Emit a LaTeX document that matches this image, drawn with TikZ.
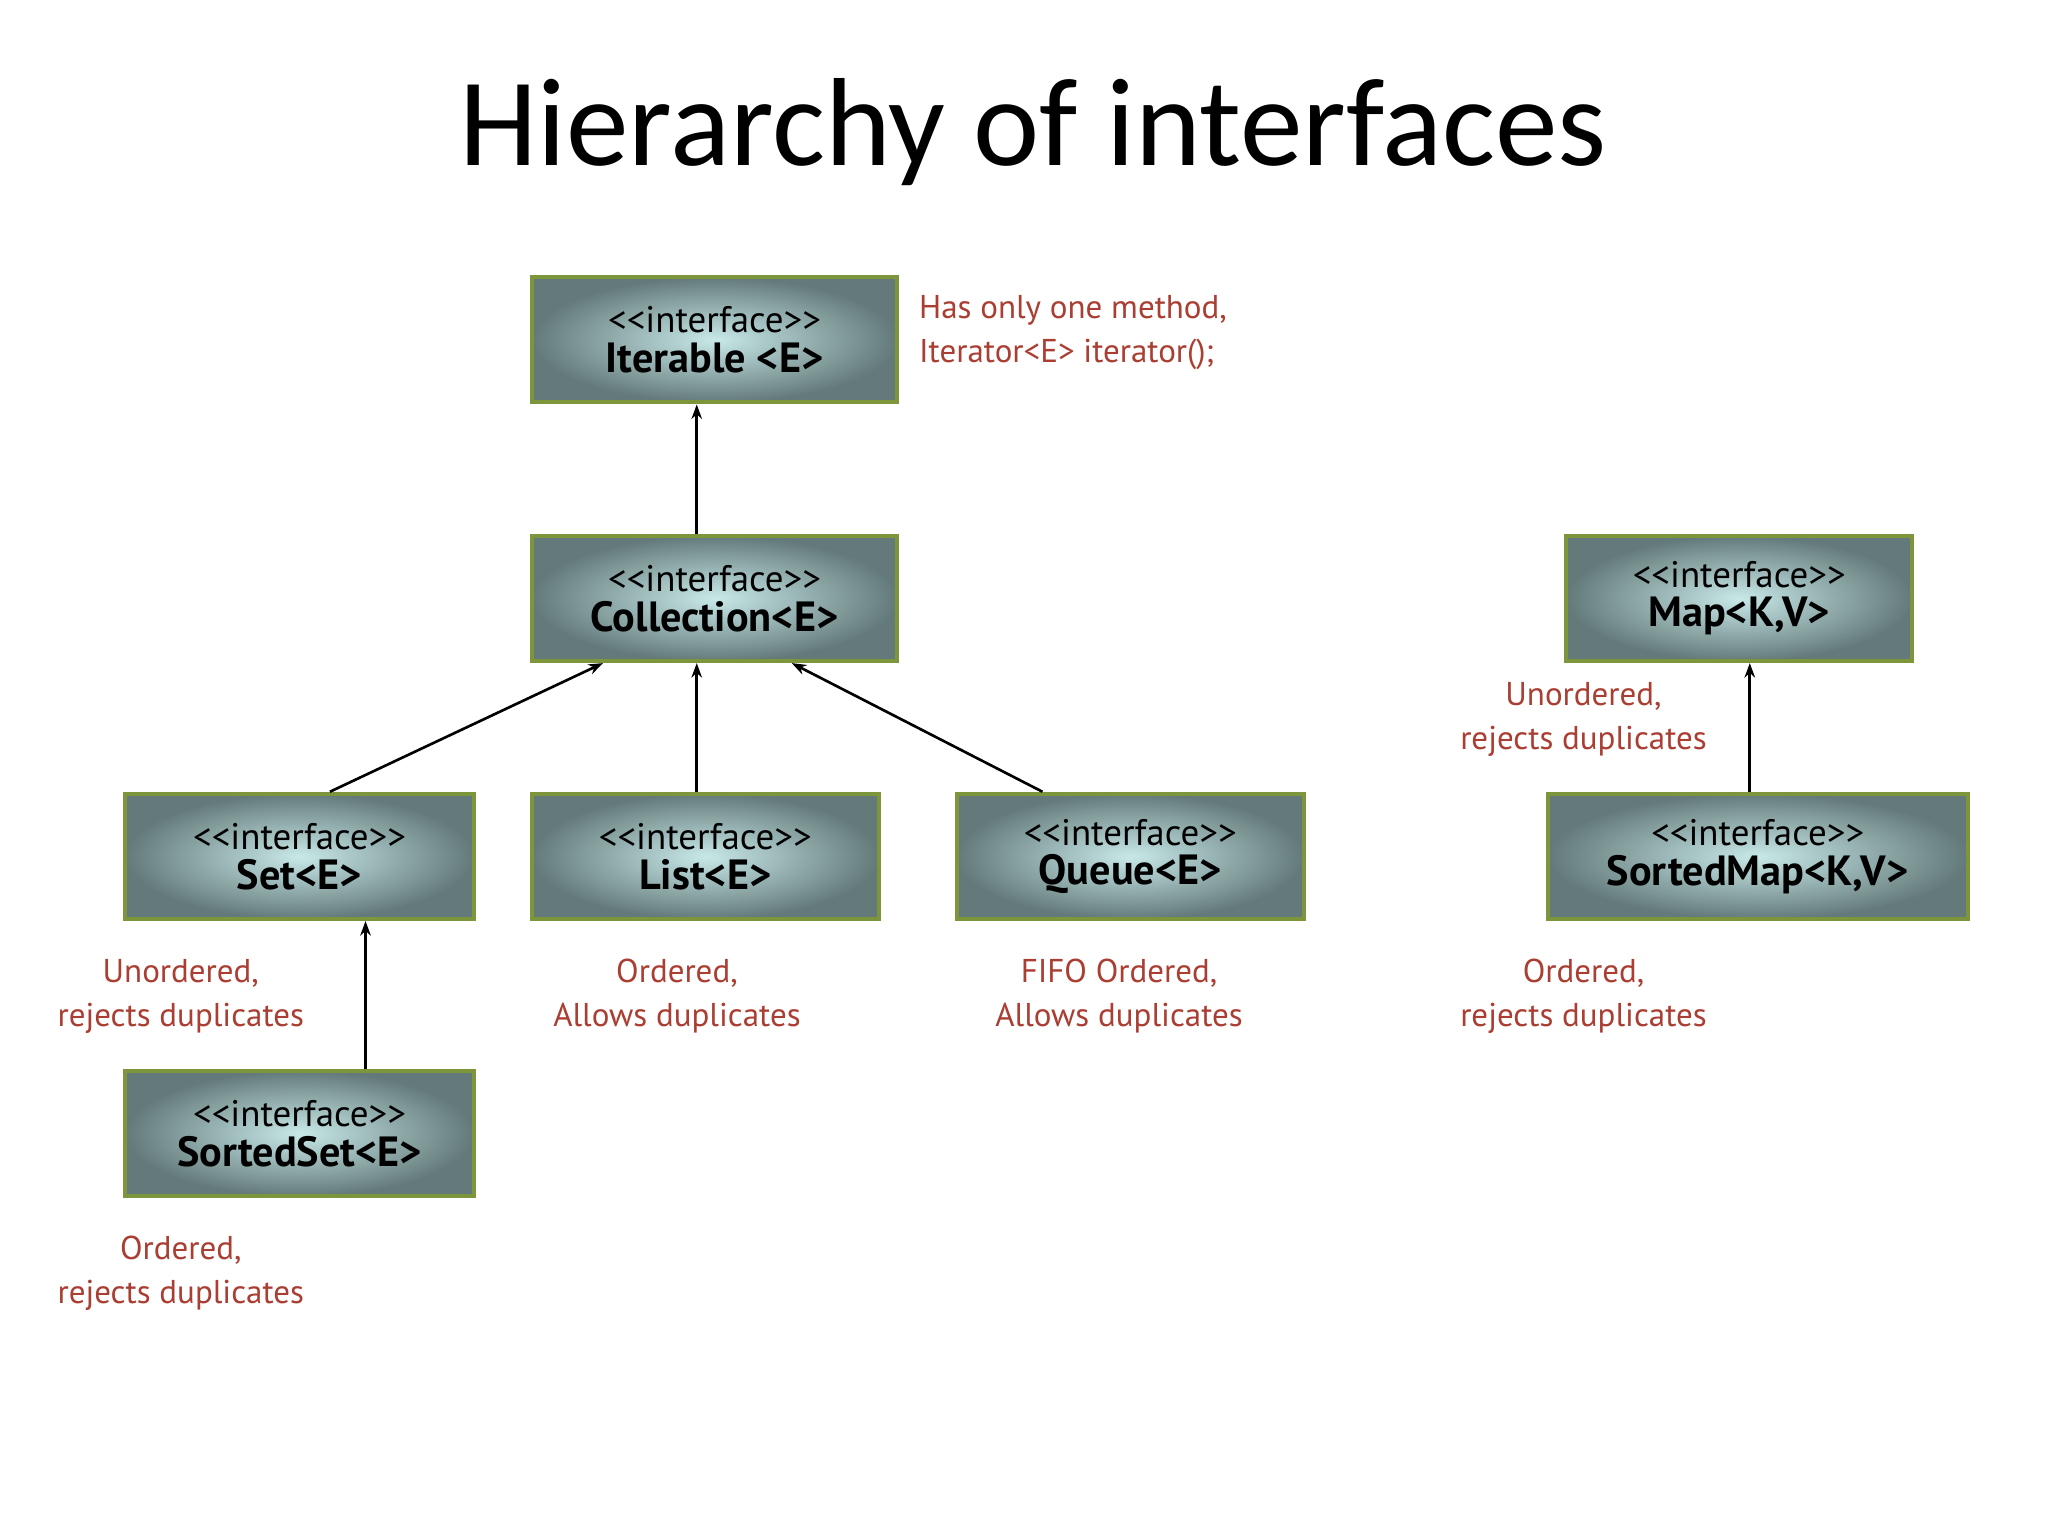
\documentclass[tikz,border=0pt]{standalone}
\usepackage{fontspec}
\setmainfont{Carlito}
\newfontfamily\boxfont{PT Sans}
\usetikzlibrary{arrows.meta}
\definecolor{bordr}{RGB}{125,150,60}
\definecolor{note}{RGB}{170,62,50}
\definecolor{inn}{RGB}{200,232,232}
\definecolor{outr}{RGB}{100,122,122}
\tikzset{
 ibox/.style={draw=bordr,line width=3pt,inner color=inn,outer color=outr,minimum height=95pt,align=center,font=\boxfont,inner sep=0pt},
 note/.style={text=note,font=\boxfont\fontsize{25}{33}\selectfont,align=center},
 conn/.style={line width=2pt,-{Stealth[length=11pt,width=8pt]}}
}
\newcommand\ibtext[1]{{\fontsize{28}{34}\selectfont <<interface>>}\\[6pt]{\fontsize{32}{38}\selectfont\bfseries #1}}
\begin{document}
\begin{tikzpicture}[x=1pt,y=-1pt]
\useasboundingbox[fill=white] (0,0) rectangle (1552,1164);
\node[font=\fontsize{95}{100}\selectfont] (title) at (783,100) {Hierarchy of interfaces};
\node[ibox,minimum width=277pt] (it) at (541.5,257.5) {\ibtext{Iterable <E>}};
\node[ibox,minimum width=277pt] (co) at (541.5,453.5) {\ibtext{Collection<E>}};
\node[ibox,minimum width=264pt] (set) at (227,649) {\ibtext{Set<E>}};
\node[ibox,minimum width=263pt] (li) at (534.5,649) {\ibtext{List<E>}};
\node[ibox,minimum width=263pt] (qu) at (856.5,649) {\ibtext{Queue<E>}};
\node[ibox,minimum width=264pt] (ss) at (227,859) {\ibtext{SortedSet<E>}};
\node[ibox,minimum width=262pt] (map) at (1318,453.5) {\ibtext{Map<K,V>}};
\node[ibox,minimum width=318pt] (sm) at (1332,649) {\ibtext{SortedMap<K,V>}};
\node[note,anchor=west,align=left] (n1) at (693,252) {Has only one method,\\Iterator<E> iterator();};
\node[note] (n2) at (137,755) {Unordered,\\rejects duplicates};
\node[note] (n3) at (513,755) {Ordered,\\Allows duplicates};
\node[note] (n4) at (848,755) {FIFO Ordered,\\Allows duplicates};
\node[note] (n5) at (137,965) {Ordered,\\rejects duplicates};
\node[note] (n6) at (1200,545) {Unordered,\\rejects duplicates};
\node[note] (n7) at (1200,755) {Ordered,\\rejects duplicates};
\draw[conn] (co.north -| 528,0) -- (it.south -| 528,0);
\draw[conn] (set.north -| 250,0) -- (co.south -| 457,0);
\draw[conn] (li.north -| 528,0) -- (co.south -| 528,0);
\draw[conn] (qu.north -| 790,0) -- (co.south -| 600,0);
\draw[conn] (ss.north -| 277,0) -- (set.south -| 277,0);
\draw[conn] (sm.north -| 1326,0) -- (map.south -| 1326,0);
\end{tikzpicture}
\end{document}
